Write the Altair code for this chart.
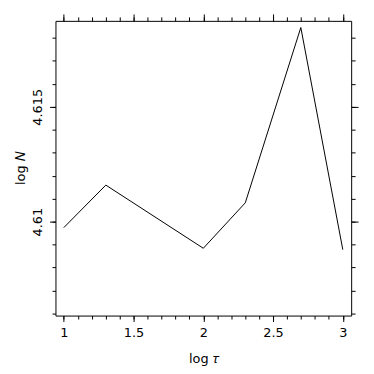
import altair as alt
import pandas as pd

# data
log_tau = [1.0, 1.301, 2.0, 2.301, 2.699, 3.0]
log_n = [4.60974, 4.61159, 4.60884, 4.61082, 4.61845, 4.60878]

# tick values
x_major = [1, 1.5, 2, 2.5, 3]
x_minor = [round(1 + 0.1 * i, 1) for i in range(21)]
y_major = [4.61, 4.615]
y_minor = [round(4.606 + 0.001 * i, 3) for i in range(13)]

X_DOMAIN = [0.94, 3.06]
Y_DOMAIN = [4.60591, 4.61874]

df = pd.DataFrame({"log_tau": log_tau, "log_n": log_n})

FONT = "DejaVu Sans"
FS = 13

base_axis = dict(domain=False, grid=False, tickColor="black", tickWidth=1)


def layer(xaxis, yaxis, visible):
    return alt.Chart(df).mark_line(
        color="black", strokeWidth=1, opacity=1 if visible else 0
    ).encode(
        x=alt.X("log_tau:Q", scale=alt.Scale(domain=X_DOMAIN, nice=False, zero=False), axis=xaxis),
        y=alt.Y("log_n:Q", scale=alt.Scale(domain=Y_DOMAIN, nice=False, zero=False), axis=yaxis),
    )


l1 = layer(
    alt.Axis(orient="bottom", values=x_major, tickSize=6, format="~g",
             labelFont=FONT, labelFontSize=FS, labelColor="black", labelPadding=5,
             title="log 𝜏", titleFont=FONT, titleFontSize=FS, titleFontWeight="normal",
             titleColor="black", titlePadding=13, **base_axis),
    alt.Axis(orient="left", values=y_major, tickSize=6, format="~g", labelAngle=-90,
             labelFont=FONT, labelFontSize=FS, labelColor="black", labelPadding=5,
             title="log 𝑁", titleFont=FONT, titleFontSize=FS, titleFontWeight="normal",
             titleColor="black", titlePadding=4, **base_axis),
    True,
)
l2 = layer(
    alt.Axis(orient="bottom", values=x_minor, tickSize=3.5, labels=False, title=None, **base_axis),
    alt.Axis(orient="left", values=y_minor, tickSize=3.5, labels=False, title=None, **base_axis),
    False,
)
l3 = layer(
    alt.Axis(orient="top", values=x_major, tickSize=7, labels=False, title=None, **base_axis),
    alt.Axis(orient="right", values=y_major, tickSize=7, labels=False, title=None, **base_axis),
    False,
)
l4 = layer(
    alt.Axis(orient="top", values=x_minor, tickSize=4, labels=False, title=None, **base_axis),
    alt.Axis(orient="right", values=y_minor, tickSize=4, labels=False, title=None, **base_axis),
    False,
)

chart = (
    alt.layer(l1, l2, l3, l4)
    .resolve_axis(x="independent", y="independent")
    .properties(
        width=299,
        height=298,
        autosize=alt.AutoSizeParams(type="none"),
        padding={"left": 48, "top": 11, "right": 15, "bottom": 50},
        background="white",
    )
    .configure_view(stroke="black", strokeWidth=1)
)

chart.save("out.html", embed_options={"renderer": "svg", "actions": False})
